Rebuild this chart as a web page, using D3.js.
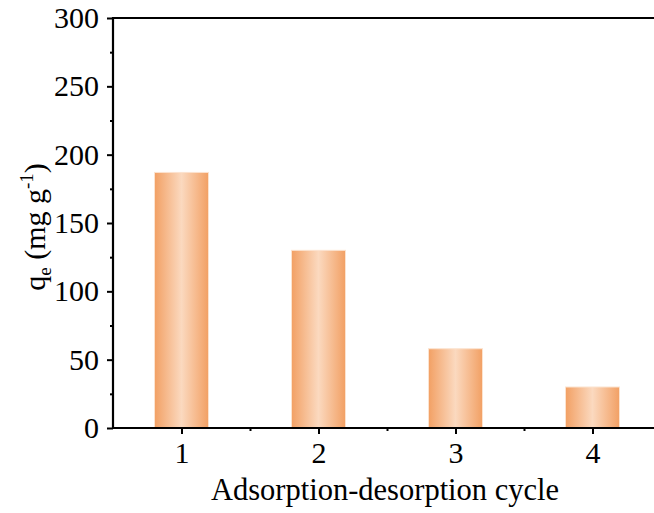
<!DOCTYPE html>
<html>
<head>
<meta charset="utf-8">
<script src="https://cdn.jsdelivr.net/npm/d3@7"></script>
<style>
  body { margin: 0; background: #fff; }
  text { font-family: "Liberation Serif", "Times New Roman", serif; fill: #000; }
</style>
</head>
<body>
<svg id="chart" width="654" height="513"></svg>
<script>
const cycles = [1, 2, 3, 4];
const qe = [187, 130, 58, 30];
const yTicks = [0, 50, 100, 150, 200, 250, 300];

const svg = d3.select("#chart");
const plotLeft = 113, plotTop = 18, plotBottom = 428, plotRight = 661;

const x = d3.scaleLinear().domain([0.5, 4.5]).range([plotLeft, plotRight]);
const y = d3.scaleLinear().domain([0, 300]).range([plotBottom, plotTop]);

const defs = svg.append("defs");
const grad = defs.append("linearGradient").attr("id", "barGrad")
  .attr("x1", "0%").attr("x2", "100%").attr("y1", "0%").attr("y2", "0%");
grad.append("stop").attr("offset", "0%").attr("stop-color", "#F2A064");
grad.append("stop").attr("offset", "50%").attr("stop-color", "#FBD9BF");
grad.append("stop").attr("offset", "100%").attr("stop-color", "#F2A064");

const barW = 54;
svg.append("g").selectAll("rect")
  .data(cycles)
  .join("rect")
  .attr("x", (d) => x(d) - barW / 2)
  .attr("y", (d, i) => y(qe[i]))
  .attr("width", barW)
  .attr("height", (d, i) => y(0) - y(qe[i]))
  .attr("fill", "url(#barGrad)")
  .attr("stroke", "#FCE3CF")
  .attr("stroke-width", 1);

// y axis
const yAxis = svg.append("g").attr("transform", `translate(${plotLeft},0)`)
  .call(d3.axisLeft(y).tickValues(yTicks).tickSize(6).tickPadding(8));
yAxis.append("g").call(d3.axisLeft(y).tickValues(d3.range(25, 300, 50)).tickSize(3).tickFormat(""));

// x axis
const xAxis = svg.append("g").attr("transform", `translate(0,${plotBottom})`)
  .call(d3.axisBottom(x).tickValues(cycles).tickFormat(d3.format("d")).tickSize(6).tickPadding(8));
xAxis.append("g").call(d3.axisBottom(x).tickValues([1.5, 2.5, 3.5]).tickSize(3).tickFormat(""));

svg.selectAll(".domain").remove();
svg.selectAll(".tick line").attr("stroke", "#000").attr("stroke-width", 2);
svg.selectAll(".tick text").attr("font-size", 30).attr("font-family", "Liberation Serif");

// axis lines
svg.append("line").attr("x1", plotLeft).attr("x2", plotLeft).attr("y1", plotTop - 1).attr("y2", plotBottom + 1)
  .attr("stroke", "#000").attr("stroke-width", 2.2);
svg.append("line").attr("x1", plotLeft - 1).attr("x2", 654).attr("y1", plotBottom).attr("y2", plotBottom)
  .attr("stroke", "#000").attr("stroke-width", 2.2);
svg.append("line").attr("x1", plotLeft - 1).attr("x2", 654).attr("y1", plotTop).attr("y2", plotTop)
  .attr("stroke", "#000").attr("stroke-width", 2.2);

// titles
svg.append("text").attr("x", 385).attr("y", 500)
  .attr("text-anchor", "middle").attr("font-size", 30.5)
  .text("Adsorption-desorption cycle");

const yl = svg.append("text").attr("transform", "translate(45,227) rotate(-90)")
  .attr("text-anchor", "middle").attr("font-size", 30);
yl.append("tspan").text("q");
yl.append("tspan").attr("font-size", 19).attr("dy", 6).text("e");
yl.append("tspan").attr("dy", -6).text(" (mg g");
yl.append("tspan").attr("font-size", 19).attr("dy", -12).text("-1");
yl.append("tspan").attr("dy", 12).text(")");
</script>
</body>
</html>
